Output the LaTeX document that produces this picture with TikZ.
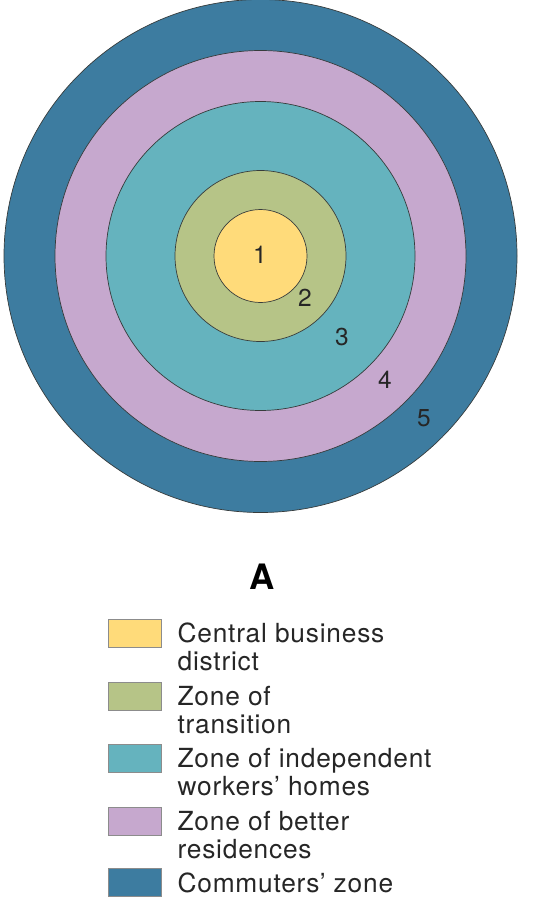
\documentclass[tikz,border=0pt]{standalone}
\usepackage{fontspec}
\setmainfont{TeX Gyre Heros}
\usepackage{tikz}
\usetikzlibrary{positioning}
\definecolor{CbdYellow}{RGB}{255,219,122}
\definecolor{TransGreen}{RGB}{182,196,135}
\definecolor{WorkTeal}{RGB}{101,179,190}
\definecolor{BetterLilac}{RGB}{198,168,206}
\definecolor{CommBlue}{RGB}{61,124,160}
\definecolor{RingLine}{RGB}{55,60,60}

\tikzset{
  ring/.style={circle, draw=RingLine, line width=0.7pt, inner sep=0pt},
  ringnum/.style={font=\fontsize{24.5}{24.5}\selectfont, text=black!85, inner sep=0pt},
  keybox/.style={draw=black!45, line width=0.8pt, minimum width=53pt, minimum height=28pt, inner sep=0pt},
  keytext/.style={font=\fontsize{26.3}{28}\selectfont\addfontfeature{LetterSpace=3}, text=black!85, align=left, anchor=base west, inner sep=0pt}
}

\begin{document}
\begin{tikzpicture}[x=1pt, y=-1pt]

	\useasboundingbox (0,0) rectangle (535,912);

	% concentric zones
	\coordinate (mid) at (260.5,256);
	\node[ring, fill=CommBlue, minimum size=513pt] (Z5) at (mid) {};
	\node[ring, fill=BetterLilac, minimum size=411pt] (Z4) at (mid) {};
	\node[ring, fill=WorkTeal, minimum size=309pt] (Z3) at (mid) {};
	\node[ring, fill=TransGreen, minimum size=171pt] (Z2) at (mid) {};
	\node[ring, fill=CbdYellow, minimum size=93pt] (Z1) at (mid) {};

	\node[ringnum] (N1) at (260,255) {1};
	\node[ringnum] (N2) at (305,298) {2};
	\node[ringnum] (N3) at (342,337) {3};
	\node[ringnum] (N4) at (385,380) {4};
	\node[ringnum] (N5) at (424,418) {5};

	% title
	\node[font=\fontsize{35}{35}\selectfont\bfseries, inner sep=0pt] (title) at (262,577) {A};

	% legend (base = last line)
	\node[keybox, fill=CbdYellow] (K1) at (134.5,633) {};
	\node[keybox, fill=TransGreen] (K2) at (134.5,696) {};
	\node[keybox, fill=WorkTeal] (K3) at (134.5,758) {};
	\node[keybox, fill=BetterLilac] (K4) at (134.5,821) {};
	\node[keybox, fill=CommBlue] (K5) at (134.5,882.5) {};

	\node[keytext] (T1) at ([xshift=16pt, yshift=-52pt]K1.north east) {Central business\\district};
	\node[keytext] (T2) at ([xshift=16pt, yshift=-52pt]K2.north east) {Zone of\\transition};
	\node[keytext] (T3) at ([xshift=16pt, yshift=-52pt]K3.north east) {Zone of independent\\workers’ homes};
	\node[keytext] (T4) at ([xshift=16pt, yshift=-52pt]K4.north east) {Zone of better\\residences};
	\node[keytext] (T5) at ([xshift=16pt, yshift=-24pt]K5.north east) {Commuters’ zone};

\end{tikzpicture}
\end{document}
